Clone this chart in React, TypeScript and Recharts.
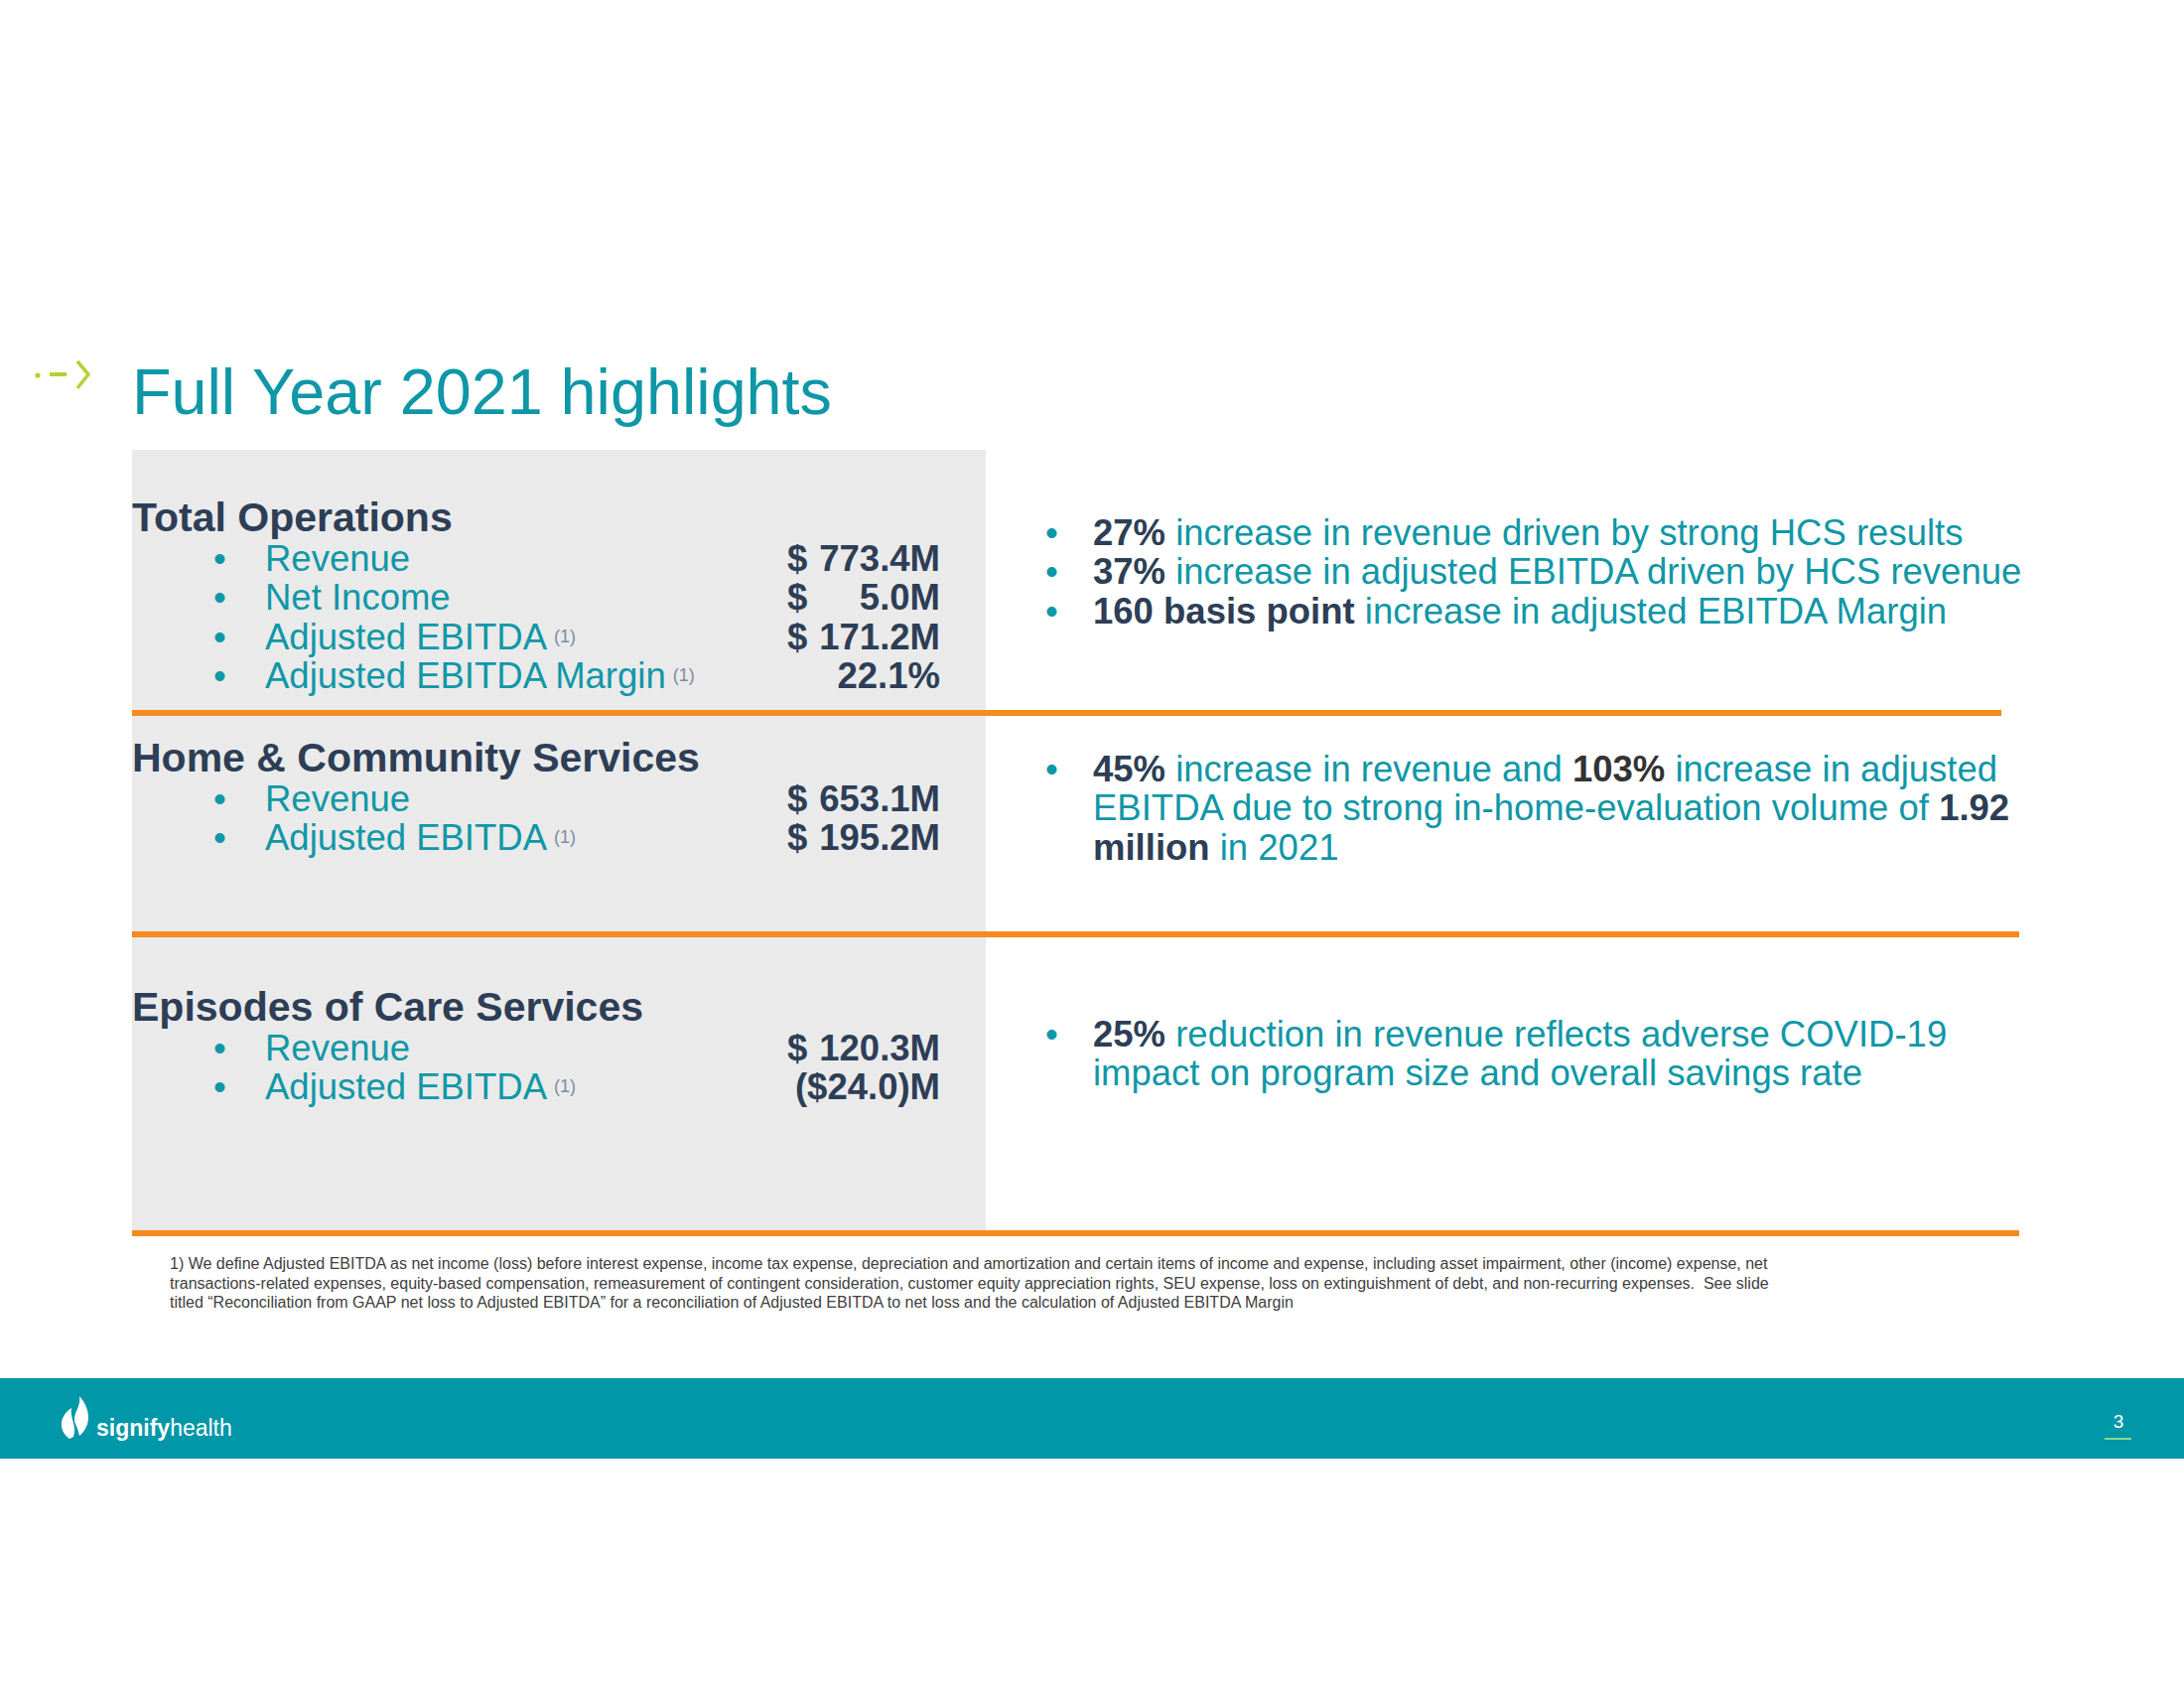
import React from "react";
import { Surface, Layer } from "recharts";

// ---------- data ----------
const titleText = "Full Year 2021 highlights";
const sectionTitles = ["Total Operations", "Home & Community Services", "Episodes of Care Services"];

const totalOpsLabels = ["Revenue", "Net Income", "Adjusted EBITDA", "Adjusted EBITDA Margin"];
const totalOpsValues = ["$ 773.4M", "$ 5.0M", "$ 171.2M", "22.1%"];
const totalOpsNoted = [false, false, true, true];

const hcsLabels = ["Revenue", "Adjusted EBITDA"];
const hcsValues = ["$ 653.1M", "$ 195.2M"];
const hcsNoted = [false, true];

const ecsLabels = ["Revenue", "Adjusted EBITDA"];
const ecsValues = ["$ 120.3M", "($24.0)M"];
const ecsNoted = [false, true];

type Seg = { t: string; b?: boolean; dark?: boolean };
type Line = { bullet: boolean; segs: Seg[] };

const opsHighlights: Line[] = [
  { bullet: true, segs: [{ t: "27%", b: true }, { t: " increase in revenue driven by strong HCS results" }] },
  { bullet: true, segs: [{ t: "37%", b: true }, { t: " increase in adjusted EBITDA driven by HCS revenue" }] },
  { bullet: true, segs: [{ t: "160 basis point", b: true }, { t: " increase in adjusted EBITDA Margin" }] },
];
const hcsHighlights: Line[] = [
  { bullet: true, segs: [{ t: "45%", b: true }, { t: " increase in revenue and " }, { t: "103%", b: true, dark: true }, { t: " increase in adjusted" }] },
  { bullet: false, segs: [{ t: "EBITDA due to strong in-home-evaluation volume of " }, { t: "1.92", b: true }] },
  { bullet: false, segs: [{ t: "million", b: true }, { t: " in 2021" }] },
];
const ecsHighlights: Line[] = [
  { bullet: true, segs: [{ t: "25%", b: true }, { t: " reduction in revenue reflects adverse COVID-19" }] },
  { bullet: false, segs: [{ t: "impact on program size and overall savings rate" }] },
];

const footnoteLines = [
  "1) We define Adjusted EBITDA as net income (loss) before interest expense, income tax expense, depreciation and amortization and certain items of income and expense, including asset impairment, other (income) expense, net",
  "transactions-related expenses, equity-based compensation, remeasurement of contingent consideration, customer equity appreciation rights, SEU expense, loss on extinguishment of debt, and non-recurring expenses.  See slide",
  "titled \u201cReconciliation from GAAP net loss to Adjusted EBITDA\u201d for a reconciliation of Adjusted EBITDA to net loss and the calculation of Adjusted EBITDA Margin",
];
const footnoteMark = "(1)";
const pageNumber = "3";

// ---------- styles ----------
const FONT = "'Liberation Sans', Arial, Helvetica, sans-serif";
const TEAL = "#0F97A7";
const NAVY = "#2D3E56";
const ORANGE = "#F58A1F";
const GRAY_BOX = "#EAEAEA";
const BAND = "#0097A8";
const LIME = "#B3D235";

const W = 2200;
const H = 1700;
const BODY = 36.5;
const HEAD = 41;
const STEP = 39.3;

const sections = [
  { labels: totalOpsLabels, values: totalOpsValues, noted: totalOpsNoted, headY: 535, highlights: opsHighlights, hlY: 549 },
  { labels: hcsLabels, values: hcsValues, noted: hcsNoted, headY: 777, highlights: hcsHighlights, hlY: 787 },
  { labels: ecsLabels, values: ecsValues, noted: ecsNoted, headY: 1028, highlights: ecsHighlights, hlY: 1054 },
];

const orangeRules = [
  { y: 718, x2: 2016 },
  { y: 941, x2: 2034 },
  { y: 1242, x2: 2034 },
];

function ValueText({ v, y }: { v: string; y: number }) {
  const right = 947;
  if (v.startsWith("$ ")) {
    return (
      <g>
        <text x={793} y={y} fontFamily={FONT} fontWeight="bold" fontSize={BODY} fill={NAVY}>$</text>
        <text x={right} y={y} textAnchor="end" fontFamily={FONT} fontWeight="bold" fontSize={BODY} fill={NAVY}>{v.slice(2)}</text>
      </g>
    );
  }
  return (
    <text x={right} y={y} textAnchor="end" fontFamily={FONT} fontWeight="bold" fontSize={BODY} fill={NAVY}>{v}</text>
  );
}

function Slide() {
  return (
    <Surface width={W} height={H}>
      <rect x={0} y={0} width={W} height={H} fill="#ffffff" />
      {/* arrow icon */}
      <Layer>
        <circle cx={38} cy={378} r={2.6} fill={LIME} />
        <line x1={50} y1={377} x2={67} y2={377} stroke={LIME} strokeWidth={4} />
        <polyline points="78,364 89,377 78,391" fill="none" stroke={LIME} strokeWidth={3.5} />
      </Layer>
      <text x={133} y={417} fontFamily={FONT} fontSize={64.7} fill={TEAL}>{titleText}</text>

      <rect x={133} y={453} width={860} height={787} fill={GRAY_BOX} />
      {orangeRules.map((r, i) => (
        <rect key={i} x={133} y={r.y - 3} width={r.x2 - 133} height={6} fill={ORANGE} />
      ))}

      {sections.map((s, si) => (
        <Layer key={si}>
          <text x={133} y={s.headY} fontFamily={FONT} fontWeight="bold" fontSize={HEAD} fill={NAVY}>{sectionTitles[si]}</text>
          {s.labels.map((lab, li) => {
            const y = s.headY + 40 + li * STEP;
            return (
              <g key={li}>
                <text x={215} y={y} fontFamily={FONT} fontSize={BODY} fill={TEAL}>{"\u2022"}</text>
                <text x={267} y={y} fontFamily={FONT} fontSize={BODY} fill={TEAL}>
                  {lab}
                  {s.noted[li] ? (
                    <tspan dx={7} dy={-7} fontSize={18} fill="#7C8CA3">{footnoteMark}</tspan>
                  ) : null}
                </text>
                <ValueText v={s.values[li]} y={y} />
              </g>
            );
          })}
          {s.highlights.map((ln, li) => {
            const y = s.hlY + li * STEP;
            return (
              <g key={"h" + li}>
                {ln.bullet ? (
                  <text x={1053} y={y} fontFamily={FONT} fontSize={BODY} fill={TEAL}>{"\u2022"}</text>
                ) : null}
                <text x={1101} y={y} fontFamily={FONT} fontSize={BODY} fill={TEAL} xmlSpace="preserve" style={{ whiteSpace: "pre" }}>
                  {ln.segs.map((sg, k) => (
                    <tspan key={k} fontWeight={sg.b ? "bold" : "normal"} fill={sg.b ? (sg.dark ? "#333333" : NAVY) : TEAL}>{sg.t}</tspan>
                  ))}
                </text>
              </g>
            );
          })}
        </Layer>
      ))}

      {footnoteLines.map((t, i) => (
        <text key={i} x={171} y={1278 + i * 19.5} fontFamily={FONT} fontSize={16} fill="#404040" style={{ whiteSpace: "pre" }}>{t}</text>
      ))}

      {/* footer band */}
      <rect x={0} y={1388} width={W} height={81} fill={BAND} />
      <Layer>
        <path d="M70,1449 C58,1440 60,1426 72,1418 C70,1428 78,1436 74,1447 Z" fill="#ffffff" />
        <path d="M80,1446 C92,1436 92,1420 80,1406 C82,1418 72,1424 76,1434 C78,1438 79,1442 80,1446 Z" fill="#ffffff" />
      </Layer>
      <text x={97} y={1446} fontFamily={FONT} fontSize={23} fill="#ffffff">
        <tspan fontWeight="bold">signify</tspan>
        <tspan>health</tspan>
      </text>
      <text x={2134} y={1438} textAnchor="middle" fontFamily={FONT} fontSize={19} fill="#ffffff">{pageNumber}</text>
      <line x1={2120} y1={1449} x2={2147} y2={1449} stroke="#86D98F" strokeWidth={2} />
    </Surface>
  );
}

export default function App() {
  return (
    <div style={{ position: "absolute", left: 0, top: 0, width: W, height: H, background: "#fff" }}>
      <Slide />
    </div>
  );
}
